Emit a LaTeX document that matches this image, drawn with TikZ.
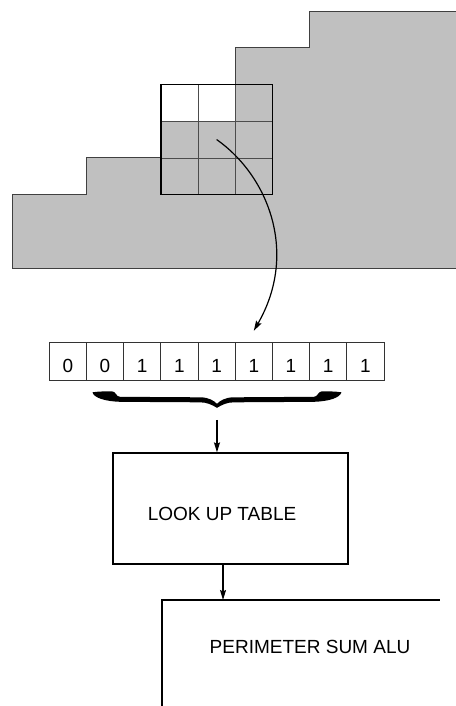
\documentclass[tikz,border=0pt]{standalone}
\usepackage{fontspec}
\setmainfont{Liberation Sans}
\usetikzlibrary{arrows.meta}
\definecolor{areagray}{RGB}{192,192,192}

\begin{document}
\begin{tikzpicture}[x=37.2pt,y=36.7pt,
  bitcell/.style={draw=black!80,line width=.7pt,minimum width=37.2pt,minimum height=38pt,
    inner sep=0pt,text height=23.5pt,text depth=0pt},
  box/.style={draw,line width=1.2pt,minimum width=235pt,minimum height=111pt},
  arr/.style={line width=1.2pt,-{Stealth[length=10pt,width=6pt,inset=1.5pt]}},
  every node/.style={font=\fontsize{19}{22}\selectfont}]
\useasboundingbox (-.3226,-11.935) rectangle (11.909,7.302);

% shaded region
\draw[fill=areagray,draw=black!75,line width=.8pt] (0,0)--(0,2)--(2,2)--(2,3)--(6,3)--(6,6)--(8,6)--(8,7)--(12.5,7)--(12.5,0)--cycle;
% 3x3 window
\fill[areagray] (4,3) rectangle (6,4);
\foreach \k in {5,6}{
  \draw[black!70,line width=.7pt] (\k,2)--(\k,5);
}
\foreach \k in {3,4}{
  \draw[black!70,line width=.7pt] (4,\k)--(7,\k);
}
\draw[line width=1.5pt] (4,2) rectangle (7,5);
\coordinate (mid) at (5.5,3.5);

% bit row
\foreach \b [count=\i] in {0,0,1,1,1,1,1,1,1}{
  \node[bitcell] (b\i) at (\i+.5,-2.537) {\b};
}
\draw[arr] (mid) .. controls (6.9,2.5) and (7.7,.4) .. ([yshift=11pt]b6.north);

% brace
\coordinate (cusp) at (5.51,-3.81);
\fill[shift={(cusp)},x=1pt,y=1pt] (0,0) .. controls (-5,3) and (-10,5.5) .. (-17,5.5)
  -- (-97,6) .. controls (-112,6.5) and (-123,10) .. (-124.5,15.5)
  .. controls (-118,16.5) and (-110,16.5) .. (-105,16.5)
  .. controls (-101,16.5) and (-101,11) .. (-97,11)
  -- (-17,10.5) .. controls (-8,10.5) and (-3,7) .. (0,4)
  .. controls (3,7) and (8,10.5) .. (17,10.5)
  -- (97,11) .. controls (101,11) and (101,16.5) .. (105,16.5)
  .. controls (110,16.5) and (118,16.5) .. (124.5,15.5)
  .. controls (123,10) and (112,6.5) .. (97,6)
  -- (17,5.5) .. controls (10,5.5) and (5,3) .. (0,0) -- cycle;

% look up table
\node[box,label={[xshift=-8.5pt,yshift=-5.5pt]center:LOOK UP TABLE}] (lut) at (5.874,-6.553) {};
\draw[arr,shorten <=12pt] (cusp) -- (cusp |- lut.north);

% perimeter sum alu
\coordinate (aluNW) at (4.032,-9.046);
\draw[line width=1.2pt] (11.505,-9.046) -- (aluNW) -- (4.032,-12.2);
\node (alu) at (8.011,-10.327) {PERIMETER SUM ALU};
\draw[arr] ([xshift=-7.5pt]lut.south) -- ([xshift=-7.5pt]lut.south |- aluNW);
\end{tikzpicture}
\end{document}
